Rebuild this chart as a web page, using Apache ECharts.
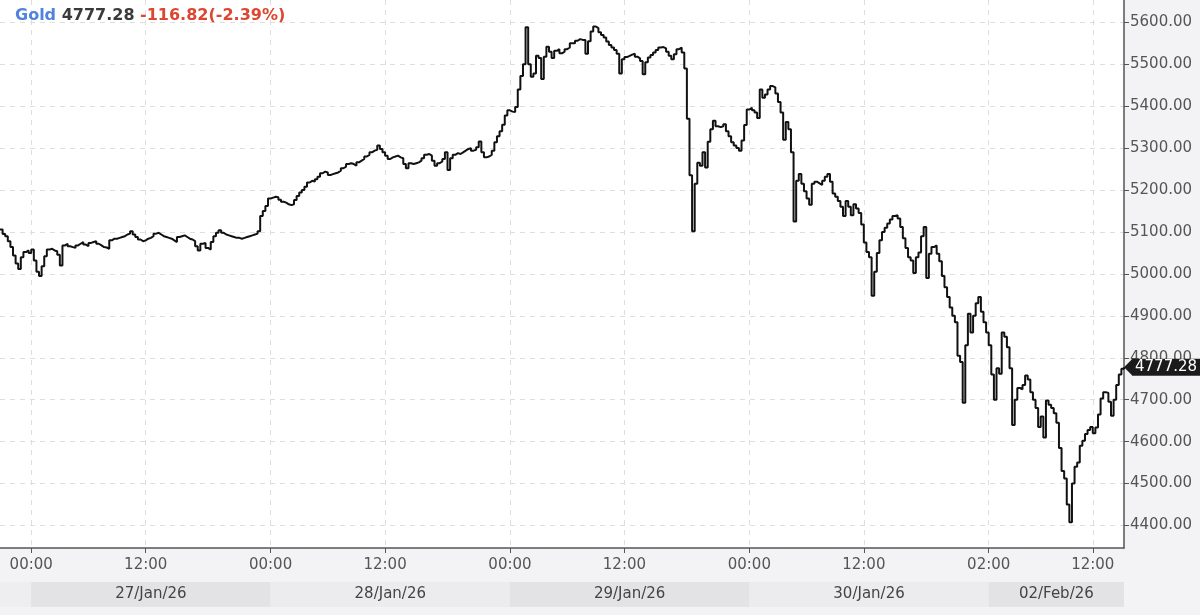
<!DOCTYPE html>
<html>
<head>
<meta charset="utf-8">
<script src="https://cdn.jsdelivr.net/npm/echarts@6/dist/echarts.min.js"></script>
<style>
html,body{margin:0;padding:0;background:#f3f3f5;}
#chart{width:1200px;height:615px;}
</style>
</head>
<body>
<div id="chart"></div>
<script>
// ---------- data ----------
const instrument = 'Gold';
const lastPrice = 4777.28;
const changeText = '-116.82(-2.39%)';

// trading sessions (15-minute slots, local time); openLabel = tick text at the day start
const sessions = [
  { date: '26/Jan/26', open: '21:00', close: '24:00', openLabel: null },
  { date: '27/Jan/26', open: '01:00', close: '24:00', openLabel: '00:00' },
  { date: '28/Jan/26', open: '01:00', close: '24:00', openLabel: '00:00' },
  { date: '29/Jan/26', open: '01:00', close: '24:00', openLabel: '00:00' },
  { date: '30/Jan/26', open: '01:00', close: '24:00', openLabel: '00:00' },
  { date: '02/Feb/26', open: '02:00', close: '15:15', openLabel: '02:00' }
];
const middayLabel = '12:00';

// prices, one per 15-minute slot
const prices26Jan = [5106,5095,5090,5078,5064,5044,5025,5012,5040,5052,5056,5050];
const prices27Jan = [5058,5032,5005,4995,5018,5042,5058,5060,
  5056,5054,5046,5020,5068,5072,5066,5064,5062,5068,
  5072,5076,5070,5066,5074,5076,5078,5072,5068,5064,
  5063,5060,5080,5084,5084,5086,5088,5090,5094,5096,
  5102,5094,5088,5082,5078,5080,5084,5086,5090,5096,
  5098,5094,5090,5088,5086,5084,5080,5076,5088,5090,
  5092,5088,5084,5082,5078,5066,5056,5072,5074,5062,
  5058,5076,5090,5098,5104,5098,5094,5092,5090,5088,
  5086,5086,5084,5086,5088,5090,5092,5094,5096,5102,
  5138,5150,5162,5180];
const prices28Jan = [5182,5184,5183,5177,5172,5170,
  5166,5164,5166,5176,5186,5194,5200,5208,5218,5222,
  5220,5226,5232,5240,5244,5242,5236,5238,5240,5242,
  5246,5252,5256,5262,5264,5262,5258,5266,5270,5274,
  5280,5284,5290,5294,5296,5306,5298,5290,5282,5274,
  5278,5280,5282,5278,5276,5262,5252,5264,5262,5264,
  5266,5270,5276,5284,5286,5282,5270,5258,5264,5268,
  5274,5290,5248,5276,5284,5288,5286,5290,5294,5298,
  5300,5294,5296,5302,5316,5290,5278,5280,5284,5294,
  5314,5328,5340,5356,5378,5390];
const prices29Jan = [5387,5386,5398,5440,
  5472,5500,5588,5500,5470,5478,5520,5515,5465,5518,
  5542,5530,5515,5532,5536,5526,5530,5536,5540,5550,
  5550,5556,5560,5558,5558,5525,5555,5578,5590,5586,
  5576,5570,5564,5554,5546,5540,5534,5525,5478,5512,
  5517,5520,5523,5525,5518,5514,5508,5476,5505,5516,
  5522,5528,5534,5540,5541,5538,5530,5520,5512,5524,
  5536,5540,5528,5490,5370,5235,5102,5215,5265,5258,
  5290,5254,5315,5345,5365,5352,5350,5352,5357,5340,
  5328,5314,5306,5300,5294,5318,5355,5392];
const prices30Jan = [5396,5390,
  5385,5372,5440,5420,5428,5440,5448,5445,5430,5410,
  5385,5320,5362,5345,5290,5125,5222,5238,5215,5197,
  5180,5165,5215,5220,5216,5212,5222,5232,5238,5220,
  5192,5184,5174,5160,5138,5174,5160,5140,5166,5156,
  5145,5118,5075,5052,5040,4948,5005,5050,5080,5100,
  5110,5120,5130,5138,5140,5132,5112,5085,5062,5040,
  5032,5002,5040,5051,5090,5112,4990,5048,5064,5068,
  5048,5030,4995,4968,4945,4920,4900,4885,4805,4790,
  4693,4830,4905,4860,4900,4930,4945,4910,4885,4860];
const prices02Feb = [4830,4760,4700,4775,4762,4860,4850,4825,4775,4640,
  4700,4728,4725,4735,4758,4748,4718,4700,4680,4635,
  4660,4610,4698,4688,4680,4668,4645,4585,4530,4512,
  4450,4408,4500,4540,4550,4590,4602,4618,4628,4635,
  4620,4634,4665,4703,4718,4716,4695,4662,4700,4735,
  4760,4774,4777.28];
const sessionPrices = [prices26Jan, prices27Jan, prices28Jan, prices29Jan, prices30Jan, prices02Feb];

// ---------- build categories ----------
const FONT = 'DejaVu Sans';
function toMin(s) { const p = s.split(':').map(Number); return p[0] * 60 + p[1]; }
function fmt(m) { return String(Math.floor(m / 60)).padStart(2, '0') + ':' + String(m % 60).padStart(2, '0'); }

const categories = [];
const tickText = {};
const sessionStart = [];
sessions.forEach(function (s) {
  sessionStart.push(categories.length);
  for (let m = toMin(s.open); m < toMin(s.close); m += 15) {
    const t = fmt(m);
    if (t === middayLabel) tickText[categories.length] = middayLabel;
    categories.push(s.date + ' ' + t);
  }
});
sessions.forEach(function (s, k) {
  if (s.openLabel) tickText[sessionStart[k]] = s.openLabel;
});
const prices = [].concat.apply([], sessionPrices);
const isTick = function (idx) { return tickText[idx] !== undefined; };

// date boxes below the axis
const shades = ['#e3e3e5', '#ececee'];
const dateAreas = [];
let shadeIdx = 0;
sessions.forEach(function (s, k) {
  if (!s.openLabel) return;
  const startCat = categories[sessionStart[k]];
  const endCat = k + 1 < sessions.length ? categories[sessionStart[k + 1]] : categories[categories.length - 1];
  dateAreas.push([
    { xAxis: startCat, name: s.date, itemStyle: { color: shades[shadeIdx % 2] } },
    { xAxis: endCat }
  ]);
  shadeIdx++;
});

// ---------- chart ----------
const chart = echarts.init(document.getElementById('chart'), null, { renderer: 'canvas' });
chart.setOption({
  animation: false,
  backgroundColor: '#f3f3f5',
  textStyle: { fontFamily: FONT },
  title: {
    left: 15, top: 8, padding: 0,
    text: '{n|' + instrument + '} {p|' + lastPrice.toFixed(2) + '} {c|' + changeText + '}',
    textStyle: {
      fontSize: 16, fontWeight: 'bold', fontFamily: FONT,
      rich: {
        n: { color: '#5283dc', fontSize: 16, fontWeight: 'bold', fontFamily: FONT },
        p: { color: '#3a3a3a', fontSize: 16, fontWeight: 'bold', fontFamily: FONT },
        c: { color: '#dd4630', fontSize: 16, fontWeight: 'bold', fontFamily: FONT }
      }
    }
  },
  grid: [
    { left: 0, right: 76, top: 0, bottom: 67, show: true, backgroundColor: '#ffffff', borderWidth: 0 },
    { left: 0, right: 76, top: 582, height: 25, show: true, backgroundColor: '#eeeef0', borderWidth: 0 }
  ],
  xAxis: [
    {
      type: 'category', gridIndex: 0, data: categories, boundaryGap: false,
      axisLine: { show: true, lineStyle: { color: '#555', width: 1.5 } },
      axisTick: { show: true, interval: isTick, length: 5, lineStyle: { color: '#555' } },
      axisLabel: {
        interval: isTick, margin: 10, color: '#555', fontSize: 15, fontFamily: FONT,
        formatter: function (v, idx) { return tickText[idx] || ''; }
      },
      splitLine: { show: true, interval: isTick, lineStyle: { color: '#dedede', type: [5, 5], width: 1 } }
    },
    {
      type: 'category', gridIndex: 1, data: categories, boundaryGap: false, show: false
    }
  ],
  yAxis: [
    {
      type: 'value', gridIndex: 0, position: 'right',
      min: 4346.4, max: 5653.2, splitNumber: 13,
      axisLine: { show: true, lineStyle: { color: '#555', width: 1.5 } },
      axisTick: { show: true, length: 5, lineStyle: { color: '#555' } },
      axisLabel: {
        margin: 6, color: '#555', fontSize: 15, fontFamily: FONT,
        showMinLabel: false, showMaxLabel: false,
        formatter: function (v) { return v.toFixed(2); }
      },
      splitLine: { show: true, showMinLine: false, showMaxLine: false, lineStyle: { color: '#dedede', type: [5, 5], width: 1 } }
    },
    { type: 'value', gridIndex: 1, min: 0, max: 1, show: false }
  ],
  series: [
    {
      type: 'line', xAxisIndex: 0, yAxisIndex: 0, data: prices,
      showSymbol: false, symbol: 'none', silent: true, step: 'end',
      lineStyle: { color: '#111', width: 2 },
      markPoint: {
        silent: true,
        symbol: 'path://M0,8 L8,0 L8,16 Z',
        symbolSize: [8, 16],
        symbolOffset: [4, 0],
        itemStyle: { color: '#1b1b1b' },
        data: [{ coord: [categories[categories.length - 1], lastPrice] }],
        label: {
          show: true, position: 'right', distance: 0,
          formatter: lastPrice.toFixed(2),
          color: '#fff', backgroundColor: '#1b1b1b',
          fontSize: 15, fontFamily: FONT, padding: [1, 3, 0, 3], lineHeight: 16
        }
      }
    },
    {
      type: 'line', xAxisIndex: 1, yAxisIndex: 1, data: [], silent: true,
      markArea: {
        silent: true,
        label: { show: true, position: 'inside', color: '#444', fontSize: 15, fontFamily: FONT },
        data: dateAreas
      }
    }
  ]
});
</script>
</body>
</html>
